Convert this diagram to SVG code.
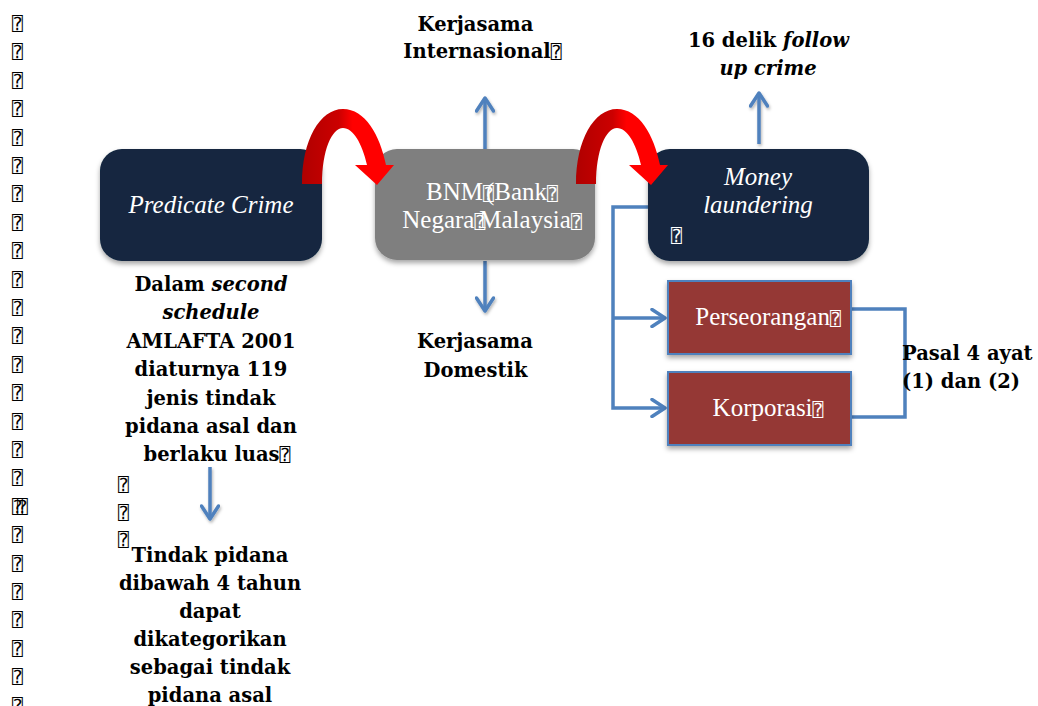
<svg xmlns="http://www.w3.org/2000/svg" width="1038" height="706" viewBox="0 0 1038 706">
<style>
.tofu{font-family:"DejaVu Sans Mono",monospace;font-size:18px;font-style:normal;font-weight:normal;}
.lbl{font-family:"DejaVu Serif",serif;font-weight:bold;font-size:19.5px;fill:#000;text-anchor:middle;}
.ntx{font-family:"Liberation Serif","DejaVu Serif",serif;font-size:25px;fill:#fff;text-anchor:middle;}
.it{font-style:italic;}
.navy{fill:#12263f;}
.gray{fill:#7f7f7f;}
.redbox{fill:#953735;stroke:#4f81bd;stroke-width:2;}
.conn{fill:none;stroke:#4f81bd;stroke-width:3.5;}
.redarr{fill:url(#redg);}
</style>
<defs>
<filter id="sh" x="-10%" y="-10%" width="130%" height="140%">
<feDropShadow dx="0" dy="3" stdDeviation="2.5" flood-color="#000" flood-opacity="0.35"/>
</filter>
<filter id="lsh" filterUnits="userSpaceOnUse" x="0" y="0" width="1038" height="706">
<feDropShadow dx="1" dy="2" stdDeviation="1.5" flood-color="#000" flood-opacity="0.3"/>
</filter>
<linearGradient id="redg" x1="0" y1="0" x2="1" y2="0">
<stop offset="0" stop-color="#b00000"/>
<stop offset="0.4" stop-color="#cc0000"/>
<stop offset="0.55" stop-color="#ff0000"/>
<stop offset="1" stop-color="#ff0000"/>
</linearGradient>
<marker id="chev" viewBox="0 0 18 20" refX="15" refY="10" markerWidth="18" markerHeight="20" orient="auto" markerUnits="userSpaceOnUse">
<path d="M2,1.5 L15,10 L2,18.5" fill="none" stroke="#4f81bd" stroke-width="3.5" stroke-linecap="round" stroke-linejoin="round"/>
</marker>
<path id="rarrow" d="M302,184 C302,140 320,109 343,109 C365,109 380,135 386,165 L394,165 L377,185 L355,165 L367,165 C362,143 353,128 343,128 C332,128 322,150 322,184 Z"/>
</defs>
<rect width="1038" height="706" fill="#fff"/>

<g id="margin-marks">
<text class="tofu" x="12" y="30">⍰<tspan x="12" dy="28.4">⍰</tspan><tspan x="12" dy="28.4">⍰</tspan><tspan x="12" dy="28.4">⍰</tspan><tspan x="12" dy="28.4">⍰</tspan><tspan x="12" dy="28.4">⍰</tspan><tspan x="12" dy="28.4">⍰</tspan><tspan x="12" dy="28.4">⍰</tspan><tspan x="12" dy="28.4">⍰</tspan><tspan x="12" dy="28.4">⍰</tspan><tspan x="12" dy="28.4">⍰</tspan><tspan x="12" dy="28.4">⍰</tspan><tspan x="12" dy="28.4">⍰</tspan><tspan x="12" dy="28.4">⍰</tspan><tspan x="12" dy="28.4">⍰</tspan><tspan x="12" dy="28.4">⍰</tspan><tspan x="12" dy="28.4">⍰</tspan><tspan x="12" dy="28.4">⍰</tspan><tspan x="12" dy="28.4">⍰</tspan><tspan x="12" dy="28.4">⍰</tspan><tspan x="12" dy="28.4">⍰</tspan><tspan x="12" dy="28.4">⍰</tspan><tspan x="12" dy="28.4">⍰</tspan><tspan x="12" dy="28.4">⍰</tspan><tspan x="12" dy="28.4">⍰</tspan></text>
<text class="tofu" x="17" y="512.8">⍰</text>
<text class="tofu" x="118" y="491">⍰<tspan x="118" dy="28">⍰</tspan><tspan x="118" dy="27">⍰</tspan></text>
</g>

<g id="connectors">
<g filter="url(#lsh)">
<line class="conn" x1="485" y1="149" x2="485" y2="98" marker-end="url(#chev)"/>
<line class="conn" x1="485" y1="261" x2="485" y2="311" marker-end="url(#chev)"/>
<line class="conn" x1="759" y1="144" x2="759" y2="93" marker-end="url(#chev)"/>
<line class="conn" x1="210" y1="467" x2="210" y2="519" marker-end="url(#chev)"/>
</g>
<path class="conn" d="M648,207 H613 V408 H665" marker-end="url(#chev)"/>
<path class="conn" d="M613,318 H665" marker-end="url(#chev)"/>
<path class="conn" d="M851,309 H905 V417 H851"/>
</g>

<g id="node-predicate">
<rect x="100" y="149" width="222" height="112" rx="22" class="navy" filter="url(#sh)"/>
<text class="ntx it" x="211" y="213">Predicate Crime</text>
</g>

<g id="node-bnm">
<rect x="375" y="149" width="220" height="111" rx="22" class="gray" filter="url(#sh)"/>
<text class="ntx" x="492" y="200">BNM<tspan class="tofu">⍰</tspan><tspan dx="-8">(Bank</tspan><tspan class="tofu">⍰</tspan></text>
<text class="ntx" x="492" y="228">Negara<tspan class="tofu">⍰</tspan><tspan dx="-6">Malaysia</tspan><tspan class="tofu">⍰</tspan></text>
</g>

<g id="node-ml">
<rect x="648" y="149" width="221" height="112" rx="22" class="navy" filter="url(#sh)"/>
<text class="ntx it" x="758" y="185">Money</text>
<text class="ntx it" x="758" y="213">laundering</text>
<text class="tofu" x="671" y="242" fill="#fff">⍰</text>
</g>

<g id="red-arrows">
<use href="#rarrow" class="redarr"/>
<use href="#rarrow" class="redarr" transform="translate(274,0)"/>
</g>

<g id="node-perseorangan">
<rect x="668" y="281" width="183" height="73" class="redbox" filter="url(#sh)"/>
<text class="ntx" x="768" y="325">Perseorangan<tspan class="tofu">⍰</tspan></text>
</g>

<g id="node-korporasi">
<rect x="668" y="372" width="183" height="73" class="redbox" filter="url(#sh)"/>
<text class="ntx" x="768" y="416">Korporasi<tspan class="tofu">⍰</tspan></text>
</g>

<g id="label-internasional">
<text class="lbl" x="475.5" y="31">Kerjasama</text>
<text class="lbl" x="482.5" y="57.5">Internasional<tspan class="tofu">⍰</tspan></text>
</g>

<g id="label-domestik">
<text class="lbl" x="475" y="348">Kerjasama</text>
<text class="lbl" x="475.5" y="376.5">Domestik</text>
</g>

<g id="label-followup">
<text class="lbl" x="768.5" y="46.5">16 delik <tspan font-style="italic">follow</tspan></text>
<text class="lbl" x="768" y="75" font-style="italic">up crime</text>
</g>

<g id="label-pasal">
<text class="lbl" x="902" y="360" style="text-anchor:start">Pasal 4 ayat</text>
<text class="lbl" x="902" y="388" style="text-anchor:start">(1) dan (2)</text>
</g>

<g id="label-amlafta">
<text class="lbl" x="211" y="291">Dalam <tspan font-style="italic">second</tspan></text>
<text class="lbl" x="211" y="319.3" font-style="italic">schedule</text>
<text class="lbl" x="211" y="348">AMLAFTA 2001</text>
<text class="lbl" x="211" y="376">diaturnya 119</text>
<text class="lbl" x="211" y="404.5">jenis tindak</text>
<text class="lbl" x="211" y="433">pidana asal dan</text>
<text class="lbl" x="217" y="461">berlaku luas<tspan class="tofu">⍰</tspan></text>
</g>

<g id="label-tindak">
<text class="lbl" x="210" y="562">Tindak pidana</text>
<text class="lbl" x="210" y="590">dibawah 4 tahun</text>
<text class="lbl" x="210" y="618">dapat</text>
<text class="lbl" x="210" y="646">dikategorikan</text>
<text class="lbl" x="210" y="674">sebagai tindak</text>
<text class="lbl" x="210" y="702">pidana asal</text>
</g>
</svg>
